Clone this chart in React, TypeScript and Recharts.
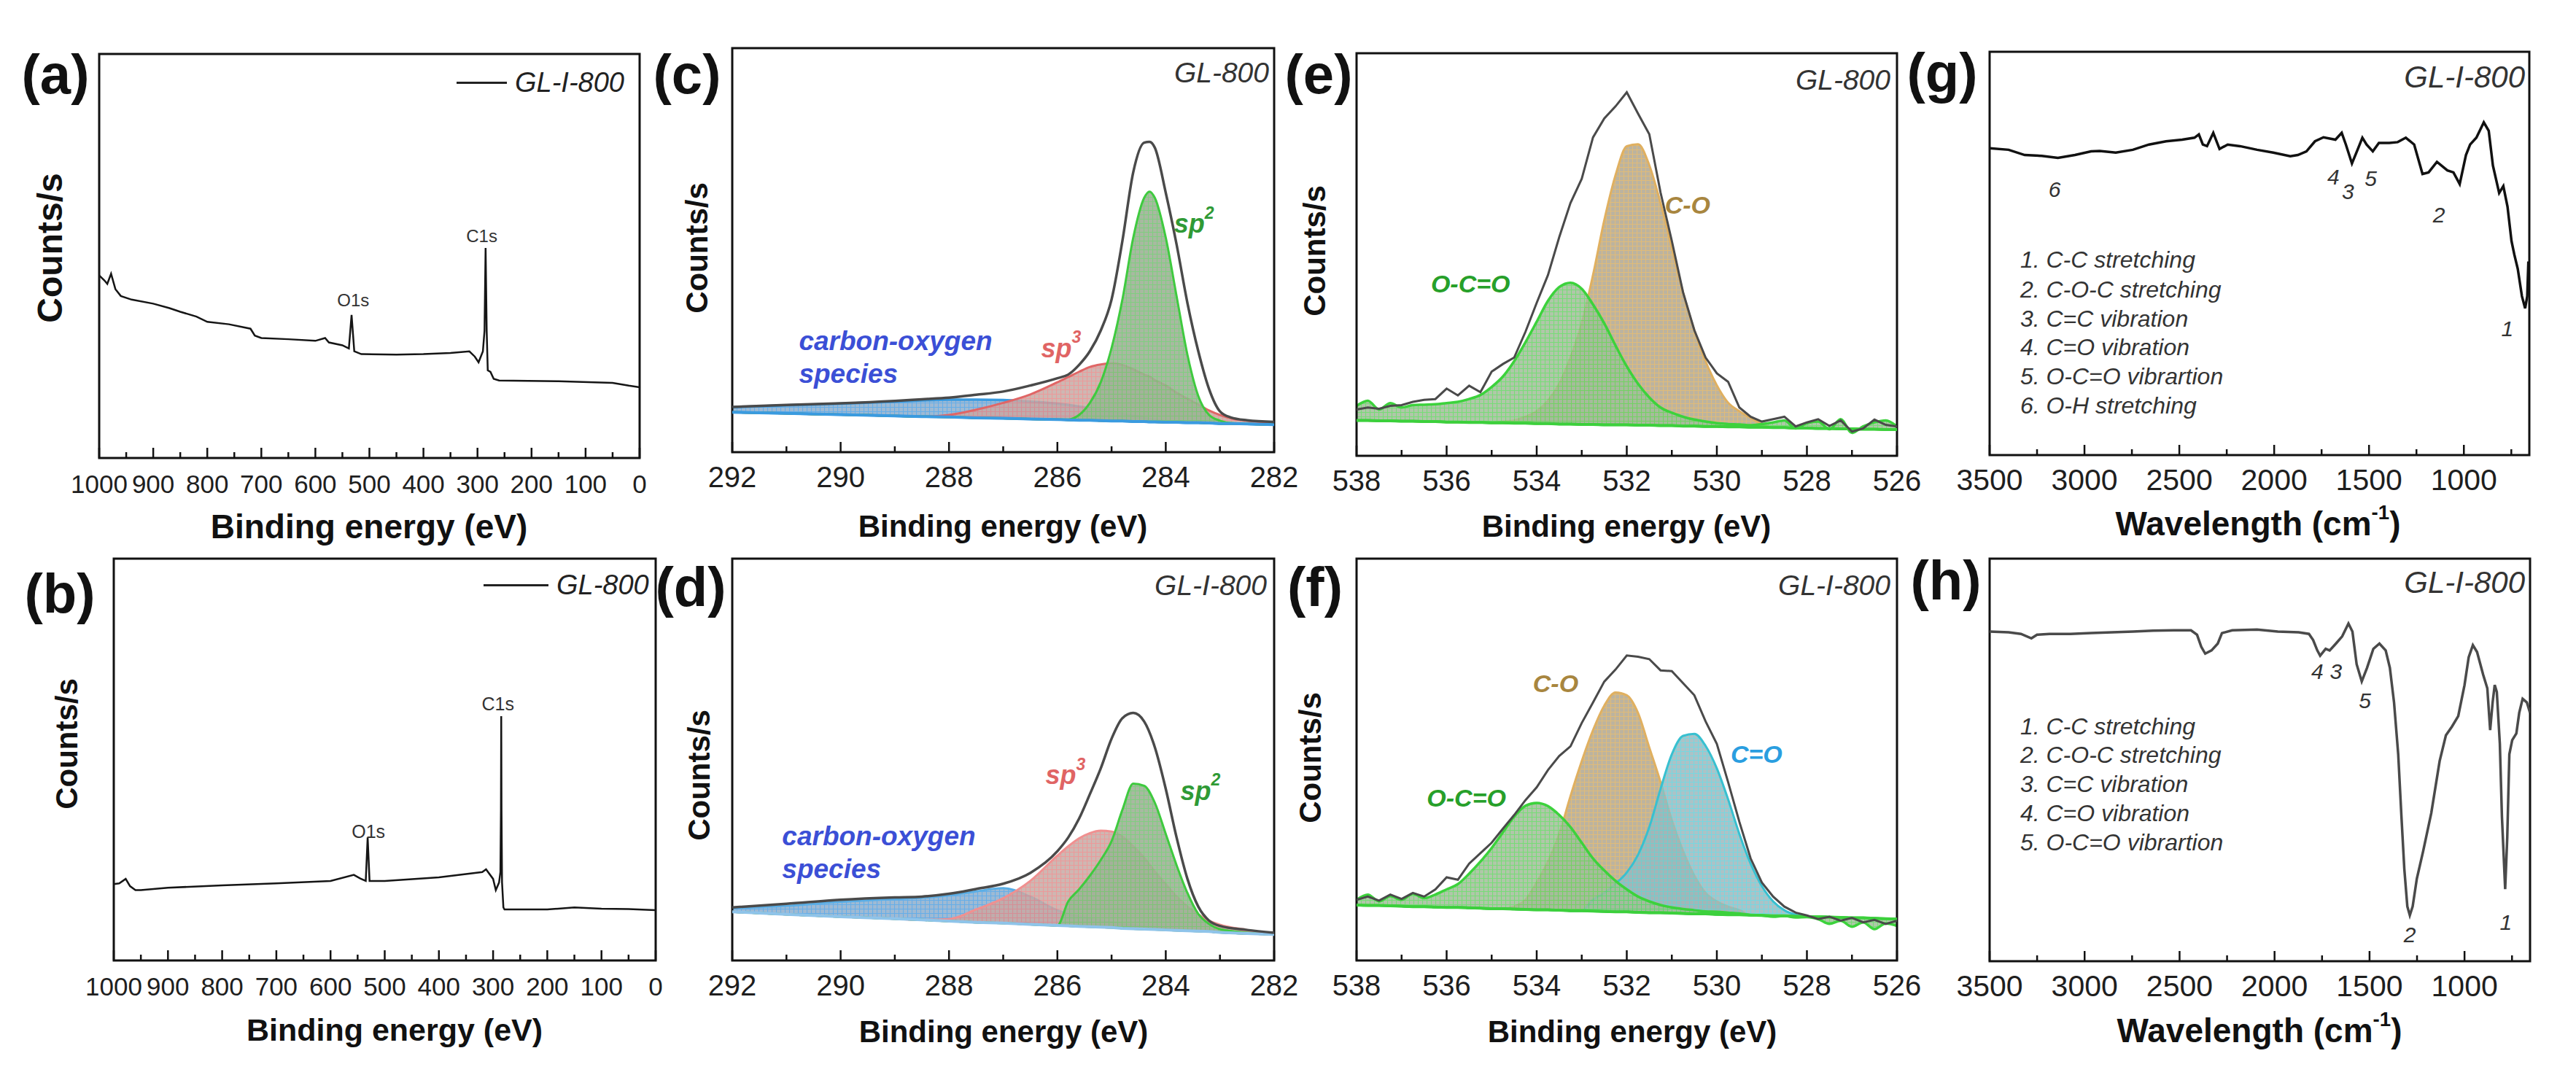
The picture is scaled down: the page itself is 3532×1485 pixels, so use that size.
import React from "react";
import { ComposedChart, Line, Area, XAxis, YAxis, ReferenceArea, ReferenceDot } from "recharts";

const FONT = '"Liberation Sans", Arial, Helvetica, sans-serif';

// (a) XPS survey, GL-I-800
const surveyEnergyA = [1000, 990, 985, 978, 970, 960, 940, 900, 870, 850, 820, 800, 760, 720, 712, 700, 650, 600, 582, 575, 550, 538, 533, 528, 515, 450, 400, 350, 315, 305, 298, 290, 287, 285, 283, 281, 276, 270, 260, 150, 50, 20, 0];
const surveyCountsA = [45.2, 43.9, 43.1, 45.6, 41.8, 40.1, 39.2, 38.2, 37.1, 36.2, 35.0, 33.7, 33.1, 32.0, 30.3, 29.7, 29.4, 29.0, 29.7, 28.6, 27.9, 27.1, 35.4, 26.4, 25.7, 25.6, 25.7, 26.0, 26.4, 25.1, 23.7, 26.4, 31.5, 52.0, 31.5, 21.7, 21.3, 19.6, 19.2, 19.0, 18.6, 17.9, 17.5];

// (b) XPS survey, GL-800
const surveyEnergyB = [1000, 990, 978, 970, 960, 950, 900, 800, 700, 600, 557, 545, 535, 531.5, 528, 500, 400, 320, 313, 300, 295, 289, 286.5, 285.5, 285, 284.5, 283.5, 281, 279, 200, 150, 100, 50, 0];
const surveyCountsB = [19.0, 19.2, 20.3, 18.5, 17.5, 17.5, 18.1, 18.7, 19.2, 19.8, 21.3, 20.4, 19.8, 30.6, 19.8, 19.8, 20.7, 22.0, 22.7, 20.3, 17.5, 19.4, 22.0, 37.5, 60.8, 37.5, 19.4, 13.2, 12.7, 12.7, 13.2, 12.9, 12.8, 12.5];

// (c) C1s, GL-800
const cEnergy = [292, 291, 290, 289, 288.5, 288, 287.5, 287, 286.5, 286, 285.8, 285.6, 285.4, 285.2, 285, 284.8, 284.6, 284.4, 284.3, 284.2, 284, 283.8, 283.6, 283.4, 283.2, 283, 282.8, 282.5, 282];
const cEnvelope = [11.2, 11.7, 12.1, 12.7, 13.1, 13.5, 14.2, 15.0, 16.5, 18.3, 19.2, 21.6, 25.0, 30.1, 37.8, 52.3, 69.3, 76.6, 76.8, 75.3, 64.2, 51.4, 36.9, 25.0, 15.6, 10.1, 8.6, 7.9, 7.5];
const cBaseline = [9.9, 9.6, 9.3, 9.0, 8.8, 8.7, 8.5, 8.4, 8.2, 8.1, 8.0, 7.9, 7.9, 7.8, 7.7, 7.7, 7.6, 7.6, 7.5, 7.5, 7.4, 7.4, 7.3, 7.3, 7.2, 7.1, 7.1, 7.0, 6.8];
const cSp2 = [9.9, 9.6, 9.3, 9.0, 8.8, 8.7, 8.5, 8.4, 8.2, 8.1, 8.1, 9.2, 12.2, 17.3, 25.8, 37.8, 53.1, 62.9, 64.5, 62.9, 53.1, 38.6, 24.1, 13.9, 9.2, 7.8, 7.2, 7.0, 6.8];
const cSp3 = [9.9, 9.6, 9.3, 9.0, 8.8, 9.2, 10.5, 12.2, 14.3, 17.3, 18.6, 19.9, 21.1, 21.7, 22.0, 21.6, 20.5, 19.2, 18.7, 17.8, 16.5, 14.7, 13.2, 11.8, 10.3, 9.2, 8.4, 7.8, 7.2];
const cOxygenSpecies = [11.1, 11.6, 12.0, 12.5, 12.8, 13.0, 13.0, 12.9, 12.5, 12.0, 11.7, 11.3, 10.9, 10.5, 10.0, 9.5, 9.0, 8.5, 8.2, 8.0, 7.7, 7.4, 7.3, 7.3, 7.2, 7.1, 7.1, 7.0, 6.8];

// (d) C1s, GL-I-800
const dEnergy = [292, 291, 290, 289, 288.5, 288, 287.5, 287, 286.5, 286, 285.8, 285.6, 285.4, 285.2, 285, 284.8, 284.6, 284.4, 284.2, 284, 283.8, 283.6, 283.4, 283.2, 283, 282.5, 282];
const dEnvelope = [13.2, 14.1, 15.1, 15.7, 15.9, 16.6, 17.8, 19.1, 21.8, 27.2, 30.6, 35.3, 41.4, 47.8, 55.2, 60.3, 61.6, 59.5, 53.0, 42.7, 30.6, 20.3, 13.4, 9.9, 8.6, 7.6, 6.9];
const dBaseline = [12.1, 11.5, 10.9, 10.4, 10.1, 9.8, 9.5, 9.3, 9.0, 8.7, 8.6, 8.5, 8.4, 8.3, 8.2, 8.0, 7.9, 7.8, 7.7, 7.6, 7.5, 7.4, 7.3, 7.2, 7.0, 6.7, 6.5];
const dSp2 = [12.1, 11.5, 10.9, 10.4, 10.1, 9.8, 9.5, 9.3, 9.0, 8.7, 14.7, 17.7, 21.1, 25.0, 29.7, 37.5, 44.0, 43.5, 39.2, 31.5, 23.7, 16.8, 11.6, 9.1, 7.8, 6.9, 6.5];
const dSp3 = [12.1, 11.5, 10.9, 10.4, 10.1, 10.3, 12.7, 15.5, 19.8, 26.1, 28.4, 30.4, 31.7, 32.3, 32.1, 30.8, 28.4, 25.6, 22.1, 19.0, 15.9, 13.4, 11.5, 9.9, 8.9, 7.6, 6.6];
const dOxygenSpecies = [13.0, 13.6, 14.6, 15.3, 15.6, 16.2, 17.2, 18.0, 15.9, 12.5, 11.6, 10.9, 10.4, 9.9, 9.5, 9.1, 8.8, 8.4, 8.2, 7.9, 7.7, 7.4, 7.3, 7.2, 7.0, 6.7, 6.5];

// (e) / (f) O1s
const oEnergy = [538, 537.75, 537.5, 537.25, 537, 536.75, 536.5, 536.25, 536, 535.75, 535.5, 535.25, 535, 534.75, 534.5, 534.25, 534, 533.75, 533.5, 533.25, 533, 532.75, 532.5, 532.25, 532, 531.75, 531.5, 531.25, 531, 530.75, 530.5, 530.25, 530, 529.75, 529.5, 529.25, 529, 528.75, 528.5, 528.25, 528, 527.75, 527.5, 527.25, 527, 526.75, 526.5, 526.25, 526];
const eEnvelope = [11.5, 12.0, 11.7, 12.4, 12.6, 13.4, 13.9, 14.1, 16.7, 15.0, 17.4, 15.8, 20.9, 22.8, 24.4, 30.8, 38.0, 44.9, 54.3, 62.8, 68.8, 79.1, 83.8, 86.8, 90.3, 85.0, 79.9, 65.4, 53.4, 40.6, 31.2, 24.4, 20.5, 18.4, 12.0, 9.7, 8.5, 9.1, 9.7, 7.3, 8.3, 9.1, 7.4, 8.8, 6.0, 6.8, 9.0, 7.7, 7.3];
const eBaseline = [8.8, 8.8, 8.7, 8.7, 8.6, 8.6, 8.5, 8.5, 8.4, 8.4, 8.3, 8.3, 8.2, 8.2, 8.1, 8.1, 8.0, 8.0, 7.9, 7.9, 7.8, 7.8, 7.7, 7.7, 7.7, 7.6, 7.6, 7.5, 7.5, 7.4, 7.4, 7.3, 7.3, 7.2, 7.2, 7.1, 7.1, 7.0, 7.0, 6.9, 6.9, 6.8, 6.8, 6.7, 6.7, 6.6, 6.6, 6.5, 6.5];
const eCO = [8.8, 8.8, 8.7, 8.7, 8.6, 8.6, 8.5, 8.5, 8.4, 8.4, 8.3, 8.3, 8.3, 8.5, 8.8, 9.7, 11.1, 13.7, 17.9, 24.4, 32.9, 44.9, 58.5, 69.7, 76.9, 77.4, 72.2, 62.8, 51.7, 40.6, 31.2, 23.5, 17.5, 13.2, 11.1, 9.4, 7.9, 7.0, 7.0, 6.9, 6.9, 6.8, 6.8, 6.7, 6.7, 6.6, 6.6, 6.5, 6.5];
const eOCO = [12.4, 13.7, 11.5, 13.1, 12.0, 12.6, 12.7, 12.8, 13.1, 13.4, 14.1, 15.1, 17.1, 19.7, 23.5, 28.2, 33.3, 38.5, 41.9, 43.0, 41.5, 37.6, 32.9, 27.4, 22.2, 17.9, 14.5, 12.0, 10.7, 9.7, 9.0, 8.5, 8.1, 7.9, 7.8, 7.6, 7.9, 8.3, 8.8, 6.8, 8.1, 8.5, 6.6, 9.1, 5.7, 7.3, 8.3, 8.8, 7.3];

const fEnvelope = [15.1, 15.9, 14.9, 16.4, 15.3, 16.8, 15.9, 17.7, 20.7, 20.1, 24.1, 26.7, 29.3, 32.8, 36.2, 39.9, 43.1, 47.4, 50.9, 53.3, 59.1, 64.2, 69.4, 72.4, 75.9, 75.6, 75.0, 72.2, 72.0, 69.0, 66.0, 59.5, 53.9, 44.4, 34.5, 25.4, 19.4, 15.9, 13.4, 11.9, 11.2, 10.3, 10.9, 9.9, 10.6, 9.5, 10.1, 9.1, 9.9];
const fBaseline = [13.8, 13.7, 13.7, 13.6, 13.5, 13.4, 13.4, 13.3, 13.2, 13.2, 13.1, 13.0, 12.9, 12.9, 12.8, 12.7, 12.6, 12.6, 12.5, 12.4, 12.4, 12.3, 12.2, 12.1, 12.1, 12.0, 11.9, 11.9, 11.8, 11.7, 11.6, 11.6, 11.5, 11.4, 11.4, 11.3, 11.2, 11.1, 11.1, 11.0, 10.9, 10.9, 10.8, 10.7, 10.6, 10.6, 10.5, 10.4, 10.3];
const fOCO = [15.1, 16.4, 14.7, 16.0, 15.1, 16.6, 15.5, 16.4, 17.7, 19.0, 21.6, 24.6, 28.0, 31.9, 35.8, 38.5, 39.2, 38.4, 36.2, 33.2, 29.3, 25.4, 22.4, 19.8, 17.7, 15.9, 14.7, 13.8, 13.2, 12.8, 12.5, 12.2, 12.1, 11.9, 11.7, 11.3, 11.2, 10.9, 11.1, 10.7, 10.8, 10.3, 9.1, 9.9, 8.4, 9.5, 7.8, 9.2, 8.6];
const fCO = [13.8, 13.7, 13.7, 13.6, 13.5, 13.4, 13.4, 13.3, 13.2, 13.2, 13.1, 13.0, 12.9, 12.9, 13.4, 15.1, 19.4, 24.6, 31.5, 40.9, 49.6, 57.3, 63.4, 66.7, 66.0, 61.6, 53.0, 44.4, 34.9, 27.2, 21.1, 16.8, 14.7, 13.4, 12.5, 11.3, 11.2, 11.1, 11.1, 11.0, 10.9, 10.9, 10.8, 10.7, 10.6, 10.6, 10.5, 10.4, 10.3];
const fCdO = [13.8, 13.7, 13.7, 13.6, 13.5, 13.4, 13.4, 13.3, 13.2, 13.2, 13.1, 13.0, 12.9, 12.9, 12.8, 12.7, 12.6, 12.6, 12.5, 12.4, 12.4, 15.1, 16.8, 19.1, 21.9, 26.3, 33.2, 42.7, 51.3, 55.9, 56.4, 53.4, 47.8, 40.1, 31.5, 24.1, 18.5, 14.7, 12.5, 11.4, 11.0, 10.9, 10.8, 10.7, 10.6, 10.6, 10.5, 10.4, 10.3];

// (g) / (h) FTIR
const gWave = [3500, 3400, 3315, 3225, 3140, 3050, 2965, 2920, 2835, 2745, 2660, 2570, 2485, 2420, 2397, 2376, 2354, 2321, 2288, 2245, 2180, 2090, 2005, 1915, 1875, 1830, 1785, 1740, 1677, 1644, 1622, 1590, 1557, 1535, 1513, 1480, 1448, 1393, 1349, 1306, 1262, 1218, 1186, 1142, 1087, 1055, 1022, 989, 967, 934, 895, 869, 847, 814, 792, 770, 749, 734, 716, 694, 677, 666, 660];
const gTrans = [76.1, 75.7, 74.4, 74.2, 73.7, 74.4, 75.3, 75.4, 75.0, 75.7, 77.0, 77.8, 78.2, 78.7, 79.5, 77.0, 76.6, 79.9, 75.9, 77.0, 76.6, 75.7, 75.0, 74.1, 74.4, 75.3, 77.8, 78.8, 78.2, 79.9, 77.0, 72.3, 76.1, 78.7, 77.0, 75.3, 77.4, 77.4, 77.6, 78.7, 77.0, 69.7, 70.1, 72.7, 70.6, 70.1, 67.2, 74.4, 77.0, 78.7, 82.5, 80.4, 71.8, 65.0, 66.7, 61.6, 53.1, 49.7, 46.2, 39.4, 36.4, 39.4, 48.0];
const hWave = [3500, 3400, 3335, 3280, 3250, 3185, 3075, 2965, 2855, 2745, 2640, 2530, 2440, 2408, 2386, 2365, 2332, 2299, 2277, 2223, 2092, 1983, 1873, 1819, 1797, 1775, 1760, 1731, 1710, 1677, 1644, 1611, 1590, 1568, 1541, 1513, 1480, 1448, 1415, 1393, 1371, 1349, 1332, 1317, 1301, 1288, 1273, 1251, 1218, 1175, 1131, 1098, 1066, 1033, 1000, 978, 956, 934, 902, 880, 865, 852, 841, 830, 814, 803, 786, 775, 764, 749, 727, 712, 694, 672, 655];
const hTrans = [81.9, 81.7, 81.3, 80.2, 81.1, 81.3, 81.3, 81.5, 81.7, 81.9, 82.1, 82.2, 82.2, 81.1, 78.1, 76.4, 77.2, 78.9, 81.5, 82.2, 82.4, 81.9, 81.7, 81.3, 79.8, 77.2, 75.9, 77.6, 77.2, 78.9, 80.7, 83.9, 81.9, 73.8, 69.5, 72.9, 77.6, 78.9, 77.2, 72.9, 64.3, 51.4, 35.9, 23.0, 13.6, 11.4, 13.6, 20.5, 27.3, 36.8, 49.7, 56.1, 58.3, 60.9, 68.6, 75.5, 78.5, 76.8, 71.2, 67.8, 57.4, 64.3, 68.6, 66.9, 54.0, 35.9, 17.9, 30.8, 51.4, 54.9, 56.6, 61.7, 65.2, 64.3, 61.7];

const ftirBandsG = ["1. C-C stretching", "2. C-O-C stretching", "3. C=C vibration", "4. C=O vibration", "5. O-C=O vibrartion", "6. O-H stretching"];
const ftirBandsH = ["1. C-C stretching", "2. C-O-C stretching", "3. C=C vibration", "4. C=O vibration", "5. O-C=O vibrartion"];

const surveyTicks = [0, 50, 100, 150, 200, 250, 300, 350, 400, 450, 500, 550, 600, 650, 700, 750, 800, 850, 900, 950, 1000];
const surveyMajors = [0, 100, 200, 300, 400, 500, 600, 700, 800, 900, 1000];
const c1sTicks = [282, 283, 284, 285, 286, 287, 288, 289, 290, 291, 292];
const c1sMajors = [282, 284, 286, 288, 290, 292];
const o1sTicks = [526, 527, 528, 529, 530, 531, 532, 533, 534, 535, 536, 537, 538];
const o1sMajors = [526, 528, 530, 532, 534, 536, 538];
const ftirTicks = [750, 1000, 1250, 1500, 1750, 2000, 2250, 2500, 2750, 3000, 3250, 3500];
const ftirMajors = [1000, 1500, 2000, 2500, 3000, 3500];

const rowsLine = (xs: number[], ys: number[]) => xs.map((x, i) => ({ x, y: ys[i] }));
const rowsC = cEnergy.map((x, i) => ({ x, env: cEnvelope[i], base: cBaseline[i], sp2: [cBaseline[i], cSp2[i]], sp3: [cBaseline[i], cSp3[i]], cox: [cBaseline[i], cOxygenSpecies[i]] }));
const rowsD = dEnergy.map((x, i) => ({ x, env: dEnvelope[i], base: dBaseline[i], sp2: [dBaseline[i], dSp2[i]], sp3: [dBaseline[i], dSp3[i]], cox: [dBaseline[i], dOxygenSpecies[i]] }));
const rowsE = oEnergy.map((x, i) => ({ x, env: eEnvelope[i], base: eBaseline[i], co: [eBaseline[i], eCO[i]], oco: [eBaseline[i], eOCO[i]] }));
const rowsF = oEnergy.map((x, i) => ({ x, env: fEnvelope[i], base: fBaseline[i], co: [fBaseline[i], fCO[i]], oco: [fBaseline[i], fOCO[i]], cdo: [fBaseline[i], fCdO[i]] }));

const PAD_Y = 12;
const PAD_X = 60;
const AXIS_H = 90;

type PanelProps = {
  frame: [number, number, number, number];
  domain: [number, number];
  ticks: number[];
  majors: number[];
  tickFont: number;
  data: any[];
  children?: React.ReactNode;
};

function Panel({ frame, domain, ticks, majors, tickFont, data, children }: PanelProps) {
  const [left, top, width, height] = frame;
  const tick = (p: any) => {
    const major = majors.includes(p.payload.value);
    return (
      <g>
        <line x1={p.x} x2={p.x} y1={p.y} y2={p.y - (major ? 14 : 8)} stroke="#111" strokeWidth={2.5} />
        {major ? (
          <text x={p.x} y={p.y + 48} textAnchor="middle" fontSize={tickFont} fontFamily={FONT} fill="#1e1e1e">
            {p.payload.value}
          </text>
        ) : null}
      </g>
    );
  };
  return (
    <div style={{ position: "absolute", left: left - PAD_X, top: top - PAD_Y }}>
      <ComposedChart width={width + 2 * PAD_X} height={height + PAD_Y + AXIS_H} data={data} margin={{ top: PAD_Y, right: PAD_X, bottom: 0, left: PAD_X }}>
        {children}
        <XAxis dataKey="x" type="number" domain={domain} ticks={ticks} reversed interval={0} allowDataOverflow height={AXIS_H} tickSize={0} tickMargin={0} axisLine={false} tickLine={false} tick={tick} />
        <YAxis hide type="number" domain={[0, 100]} allowDataOverflow />
        <ReferenceArea x1={domain[0]} x2={domain[1]} y1={0} y2={100} fill="none" stroke="#111" strokeWidth={3} ifOverflow="visible" />
      </ComposedChart>
    </div>
  );
}

type NoteStyle = { size: number; color: string; bold?: boolean; italic?: boolean; anchor?: "start" | "middle" | "end" };

const note = (key: string, x: number, y: number, body: React.ReactNode, s: NoteStyle) => (
  <ReferenceDot
    key={key}
    x={x}
    y={y}
    r={0}
    fill="none"
    stroke="none"
    ifOverflow="visible"
    label={{
      content: (lp: any) => {
        const vb = lp.viewBox || { x: 0, y: 0, width: 0, height: 0 };
        return (
          <text
            x={vb.x + (vb.width || 0) / 2}
            y={vb.y + (vb.height || 0) / 2}
            dominantBaseline="central"
            textAnchor={s.anchor || "middle"}
            fontFamily={FONT}
            fontSize={s.size}
            fontWeight={s.bold ? "bold" : "normal"}
            fontStyle={s.italic ? "italic" : "normal"}
            fill={s.color}
          >
            {body}
          </text>
        );
      },
    }}
  />
);

const hatch = (id: string, bg: string, line: string) => (
  <pattern id={id} key={id} width={6} height={6} patternUnits="userSpaceOnUse">
    <rect width={6} height={6} fill={bg} />
    <path d="M0 0.5H6M0.5 0V6" stroke={line} strokeWidth={1.1} />
  </pattern>
);

const sup = (base: string, s: string) => (
  <>
    {base}
    <tspan dy={-15} fontSize={23}>{s}</tspan>
  </>
);

type TxtProps = { x: number; y: number; size: number; bold?: boolean; italic?: boolean; color?: string; rotate?: boolean; align?: "center" | "left" | "right"; children: React.ReactNode };

function Txt({ x, y, size, bold, italic, color, rotate, align = "center", children }: TxtProps) {
  const style: React.CSSProperties = {
    position: "absolute",
    top: y,
    fontSize: size,
    fontWeight: bold ? "bold" : "normal",
    fontStyle: italic ? "italic" : "normal",
    color: color || "#111",
    lineHeight: 1,
    whiteSpace: "nowrap",
  };
  if (align === "right") {
    style.right = 3532 - x;
    style.transform = "translateY(-50%)";
  } else if (align === "left") {
    style.left = x;
    style.transform = "translateY(-50%)";
  } else {
    style.left = x;
    style.transform = rotate ? "translate(-50%,-50%) rotate(-90deg)" : "translate(-50%,-50%)";
  }
  return <div style={style}>{children}</div>;
}

const SP2 = "#2f9a35";
const SP3 = "#e06464";
const COX = "#3b4fd6";
const CO_T = "#a8863f";
const OCO_T = "#27a02a";
const CDO_T = "#2a9ee0";

const line = (stroke: string, w: number, type: "linear" | "monotone" = "linear") => ({ stroke, strokeWidth: w, dot: false, activeDot: false, isAnimationActive: false, type });

export default function App() {
  return (
    <div style={{ position: "absolute", left: 0, top: 0, width: 3532, height: 1485, background: "#fff", fontFamily: FONT, overflow: "hidden" }}>
      {/* (a) */}
      <Panel frame={[136, 74, 741, 554]} domain={[0, 1000]} ticks={surveyTicks} majors={surveyMajors} tickFont={35} data={rowsLine(surveyEnergyA, surveyCountsA)}>
        <Line dataKey="y" {...line("#151515", 2.5)} />
        {note("a1", 530, 39, "O1s", { size: 24, color: "#333" })}
        {note("a2", 292, 55, "C1s", { size: 24, color: "#333" })}
      </Panel>

      {/* (b) */}
      <Panel frame={[156, 766, 743, 551]} domain={[0, 1000]} ticks={surveyTicks} majors={surveyMajors} tickFont={35} data={rowsLine(surveyEnergyB, surveyCountsB)}>
        <Line dataKey="y" {...line("#151515", 2.5)} />
        {note("b1", 530, 32.1, "O1s", { size: 25, color: "#333" })}
        {note("b2", 291, 63.8, "C1s", { size: 25, color: "#333" })}
      </Panel>

      {/* (c) */}
      <Panel frame={[1004, 66, 743, 554]} domain={[282, 292]} ticks={c1sTicks} majors={c1sMajors} tickFont={40} data={rowsC}>
        <defs>
          {hatch("pcBlue", "#93b2cf", "#55a5e5")}
          {hatch("pcSp3", "#c6aaa5", "#e88888")}
          {hatch("pcSp2", "#9fb197", "#72c872")}
        </defs>
        <Area dataKey="cox" {...line("#3a9be0", 3.5, "monotone")} fill="url(#pcBlue)" fillOpacity={0.9} />
        <Area dataKey="sp3" {...line("#e06666", 3, "monotone")} fill="url(#pcSp3)" fillOpacity={0.85} />
        <Area dataKey="sp2" {...line("#3fca3f", 3, "monotone")} fill="url(#pcSp2)" fillOpacity={0.9} />
        <Line dataKey="base" {...line("#3a9be0", 4)} />
        <Line dataKey="env" {...line("#4a4a4a", 3.5, "monotone")} />
        {note("c1", 283.48, 56.5, sup("sp", "2"), { size: 36, color: SP2, bold: true, italic: true })}
        {note("c2", 285.93, 25.8, sup("sp", "3"), { size: 36, color: SP3, bold: true, italic: true })}
        {note("c3", 290.77, 27.5, "carbon-oxygen", { size: 37, color: COX, bold: true, italic: true, anchor: "start" })}
        {note("c4", 290.77, 19.4, "species", { size: 37, color: COX, bold: true, italic: true, anchor: "start" })}
      </Panel>

      {/* (d) */}
      <Panel frame={[1004, 766, 743, 551]} domain={[282, 292]} ticks={c1sTicks} majors={c1sMajors} tickFont={40} data={rowsD}>
        <defs>
          {hatch("pdBlue", "#93b2cf", "#55a5e5")}
          {hatch("pdSp3", "#c6aaa5", "#e88888")}
          {hatch("pdSp2", "#9fb197", "#72c872")}
        </defs>
        <Area dataKey="cox" {...line("#5aaee6", 3, "monotone")} fill="url(#pdBlue)" fillOpacity={0.9} />
        <Area dataKey="sp3" {...line("#f09090", 3, "monotone")} fill="url(#pdSp3)" fillOpacity={0.85} />
        <Area dataKey="sp2" {...line("#3fca3f", 3, "monotone")} fill="url(#pdSp2)" fillOpacity={0.9} />
        <Line dataKey="base" {...line("#8fc4ea", 4)} />
        <Line dataKey="env" {...line("#4a4a4a", 3.5, "monotone")} />
        {note("d1", 285.85, 46.1, sup("sp", "3"), { size: 36, color: SP3, bold: true, italic: true })}
        {note("d2", 283.36, 42.2, sup("sp", "2"), { size: 36, color: SP2, bold: true, italic: true })}
        {note("d3", 291.08, 31.0, "carbon-oxygen", { size: 37, color: COX, bold: true, italic: true, anchor: "start" })}
        {note("d4", 291.08, 22.8, "species", { size: 37, color: COX, bold: true, italic: true, anchor: "start" })}
      </Panel>

      {/* (e) */}
      <Panel frame={[1860, 73, 741, 552]} domain={[526, 538]} ticks={o1sTicks} majors={o1sMajors} tickFont={40} data={rowsE}>
        <defs>
          {hatch("peCO", "#b5ab95", "#dcb46a")}
          {hatch("peOCO", "#a2bd9a", "#5fd65f")}
        </defs>
        <Line dataKey="base" {...line("#3cd03c", 4)} />
        <Area dataKey="co" {...line("#e0b060", 3, "monotone")} fill="url(#peCO)" fillOpacity={0.9} />
        <Line dataKey="env" {...line("#4a4a4a", 3)} />
        <Area dataKey="oco" {...line("#3cd23c", 3.5, "monotone")} fill="url(#peOCO)" fillOpacity={0.85} />
        {note("e1", 530.65, 62.4, "C-O", { size: 34, color: CO_T, bold: true, italic: true })}
        {note("e2", 535.47, 42.7, "O-C=O", { size: 34, color: OCO_T, bold: true, italic: true })}
      </Panel>

      {/* (f) */}
      <Panel frame={[1860, 766, 741, 551]} domain={[526, 538]} ticks={o1sTicks} majors={o1sMajors} tickFont={40} data={rowsF}>
        <defs>
          {hatch("pfCO", "#b5ab95", "#dcb46a")}
          {hatch("pfCdO", "#9db7bc", "#5fd0da")}
          {hatch("pfOCO", "#a2bd9a", "#5fd65f")}
        </defs>
        <Line dataKey="base" {...line("#3cd03c", 4)} />
        <Area dataKey="co" {...line("#e0b060", 3, "monotone")} fill="url(#pfCO)" fillOpacity={0.9} />
        <Area dataKey="cdo" {...line("#38c0d0", 3, "monotone")} fill="url(#pfCdO)" fillOpacity={0.85} />
        <Line dataKey="env" {...line("#4a4a4a", 3)} />
        <Area dataKey="oco" {...line("#3cd23c", 3.5, "monotone")} fill="url(#pfOCO)" fillOpacity={0.85} />
        {note("f1", 533.58, 69.0, "C-O", { size: 34, color: CO_T, bold: true, italic: true })}
        {note("f2", 529.12, 51.3, "C=O", { size: 34, color: CDO_T, bold: true, italic: true })}
        {note("f3", 535.56, 40.5, "O-C=O", { size: 34, color: OCO_T, bold: true, italic: true })}
      </Panel>

      {/* (g) */}
      <Panel frame={[2728, 71, 740, 553]} domain={[655, 3500]} ticks={ftirTicks} majors={ftirMajors} tickFont={41} data={rowsLine(gWave, gTrans)}>
        <Line dataKey="y" {...line("#111", 3.5)} />
        {note("g6", 3157, 65.9, "6", { size: 30, color: "#333", italic: true })}
        {note("g4", 1688, 68.9, "4", { size: 30, color: "#333", italic: true })}
        {note("g3", 1611, 65.4, "3", { size: 30, color: "#333", italic: true })}
        {note("g5", 1491, 68.6, "5", { size: 30, color: "#333", italic: true })}
        {note("g2", 1131, 59.5, "2", { size: 30, color: "#333", italic: true })}
        {note("g1", 771, 31.3, "1", { size: 30, color: "#333", italic: true })}
        {ftirBandsG.map((t, i) => note("gl" + i, 3339, [48.4, 41.1, 33.9, 26.8, 19.5, 12.3][i], t, { size: 32, color: "#333", italic: true, anchor: "start" }))}
      </Panel>

      {/* (h) */}
      <Panel frame={[2728, 766, 741, 552]} domain={[655, 3500]} ticks={ftirTicks} majors={ftirMajors} tickFont={41} data={rowsLine(hWave, hTrans)}>
        <Line dataKey="y" {...line("#4a4a4a", 3.5)} />
        {note("h4", 1775, 72.1, "4", { size: 30, color: "#333", italic: true })}
        {note("h3", 1677, 72.1, "3", { size: 30, color: "#333", italic: true })}
        {note("h5", 1524, 64.7, "5", { size: 30, color: "#333", italic: true })}
        {note("h2", 1288, 6.7, "2", { size: 30, color: "#333", italic: true })}
        {note("h1", 782, 9.7, "1", { size: 30, color: "#333", italic: true })}
        {ftirBandsH.map((t, i) => note("hl" + i, 3339, [58.3, 51.2, 44.0, 36.8, 29.5][i], t, { size: 32, color: "#333", italic: true, anchor: "start" }))}
      </Panel>

      {/* panel letters */}
      <Txt x={76} y={102} size={76} bold>(a)</Txt>
      <Txt x={942} y={102} size={76} bold>(c)</Txt>
      <Txt x={1808} y={102} size={76} bold>(e)</Txt>
      <Txt x={2663} y={100} size={76} bold>(g)</Txt>
      <Txt x={82} y={814} size={76} bold>(b)</Txt>
      <Txt x={947} y={805} size={76} bold>(d)</Txt>
      <Txt x={1803} y={805} size={76} bold>(f)</Txt>
      <Txt x={2668} y={796} size={76} bold>(h)</Txt>

      {/* y titles */}
      <Txt x={69} y={340} size={48} bold rotate>Counts/s</Txt>
      <Txt x={956} y={340} size={42} bold rotate>Counts/s</Txt>
      <Txt x={1803} y={344} size={42} bold rotate>Counts/s</Txt>
      <Txt x={92} y={1020} size={42} bold rotate>Counts/s</Txt>
      <Txt x={959} y={1063} size={42} bold rotate>Counts/s</Txt>
      <Txt x={1797} y={1039} size={42} bold rotate>Counts/s</Txt>

      {/* x titles */}
      <Txt x={506} y={722} size={46} bold>Binding energy (eV)</Txt>
      <Txt x={1375} y={722} size={42} bold>Binding energy (eV)</Txt>
      <Txt x={2230} y={722} size={42} bold>Binding energy (eV)</Txt>
      <Txt x={3096} y={715} size={46} bold>
        Wavelength (cm<span style={{ fontSize: "0.6em", verticalAlign: "0.8em" }}>-1</span>)
      </Txt>
      <Txt x={541} y={1412} size={43} bold>Binding energy (eV)</Txt>
      <Txt x={1376} y={1415} size={42} bold>Binding energy (eV)</Txt>
      <Txt x={2238} y={1415} size={42} bold>Binding energy (eV)</Txt>
      <Txt x={3098} y={1410} size={46} bold>
        Wavelength (cm<span style={{ fontSize: "0.6em", verticalAlign: "0.8em" }}>-1</span>)
      </Txt>

      {/* sample tags */}
      <div style={{ position: "absolute", left: 626, top: 112, width: 69, height: 2.5, background: "#222" }} />
      <Txt x={706} y={113} size={38} italic color="#222" align="left">GL-I-800</Txt>
      <div style={{ position: "absolute", left: 663, top: 801, width: 89, height: 2.5, background: "#222" }} />
      <Txt x={763} y={802} size={38} italic color="#222" align="left">GL-800</Txt>
      <Txt x={1740} y={99} size={39} italic color="#333" align="right">GL-800</Txt>
      <Txt x={1737} y={802} size={39} italic color="#333" align="right">GL-I-800</Txt>
      <Txt x={2592} y={109} size={39} italic color="#333" align="right">GL-800</Txt>
      <Txt x={2592} y={802} size={39} italic color="#333" align="right">GL-I-800</Txt>
      <Txt x={3462} y={106} size={42} italic color="#333" align="right">GL-I-800</Txt>
      <Txt x={3462} y={799} size={42} italic color="#333" align="right">GL-I-800</Txt>
    </div>
  );
}
